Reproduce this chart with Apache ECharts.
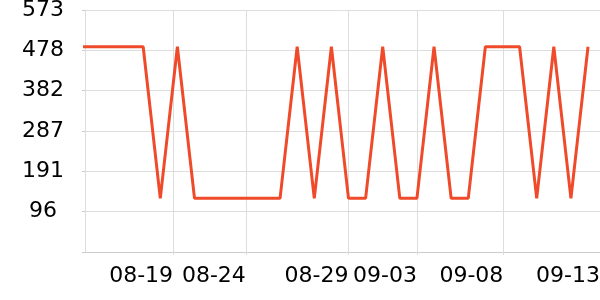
<!DOCTYPE html>
<html><head><meta charset="utf-8">
<script src="https://cdn.jsdelivr.net/npm/echarts@6/dist/echarts.min.js"></script>
<style>html,body{margin:0;padding:0;background:#fff}#c{width:600px;height:300px}</style>
</head><body><div id="c"></div>
<script>
// Daily dates (08-14 .. 09-13) and values
const dates = ['08-14','08-15','08-16','08-17','08-18','08-19','08-20','08-21','08-22','08-23','08-24','08-25','08-26','08-27','08-28','08-29','08-30','08-31',
  '09-01','09-02','09-03','09-04','09-05','09-06','09-07','09-08','09-09','09-10','09-11','09-12','09-13'];
const values = [486,486,486,486,486,127,486,127,127,127,127,127,127,486,127,486,127,127,486,127,127,486,127,127,486,486,486,127,486,127,486];
// x-axis tick labels and their positions (in day index units)
const xTickLabels = ['08-19','08-24','08-29','09-03','09-08','09-13'];
const xTickPos = [5.75, 10, 16, 20, 25.05, 30.7];
// y-axis ticks
const yMax = 573;
const yStep = 95.5;

const chart = echarts.init(document.getElementById('c'), null, {renderer: 'canvas'});
const font = 'DejaVu Sans';
chart.setOption({
  animation: false,
  grid: {left: 85, right: 0, top: 10, bottom: 48, containLabel: false, outerBoundsMode: 'none'},
  xAxis: {
    type: 'value', min: 0.6, max: 30.7,
    axisLine: {show: true, lineStyle: {color: '#cccccc', width: 1}},
    axisTick: {show: true, length: 3, lineStyle: {color: '#dddddd'}, customValues: xTickPos},
    splitLine: {show: true, lineStyle: {color: '#dddddd', width: 1}},
    axisLabel: {
      customValues: xTickPos,
      align: 'right', margin: 13,
      fontFamily: font, fontSize: 22, color: '#000',
      formatter: function (v) {
        const i = xTickPos.findIndex(p => Math.abs(p - v) < 1e-6);
        return i >= 0 ? xTickLabels[i] : '';
      }
    }
  },
  yAxis: {
    type: 'value', min: 0, max: yMax, interval: yStep,
    axisLine: {show: true, lineStyle: {color: '#dddddd'}},
    axisTick: {show: true, length: 3, lineStyle: {color: '#cccccc'}},
    splitLine: {show: true, lineStyle: {color: '#dddddd'}},
    axisLabel: {
      align: 'center', margin: 42,
      fontFamily: font, fontSize: 22, color: '#000',
      formatter: function (v) { return v === 0 ? '' : String(Math.round(v)); }
    }
  },
  series: [{
    type: 'line',
    data: values.map((v, i) => [i, v]),
    showSymbol: false, symbol: 'none',
    lineStyle: {color: '#ef4b2b', width: 3},
    itemStyle: {color: '#ef4b2b'},
    clip: true
  }]
});
</script>
</body></html>
